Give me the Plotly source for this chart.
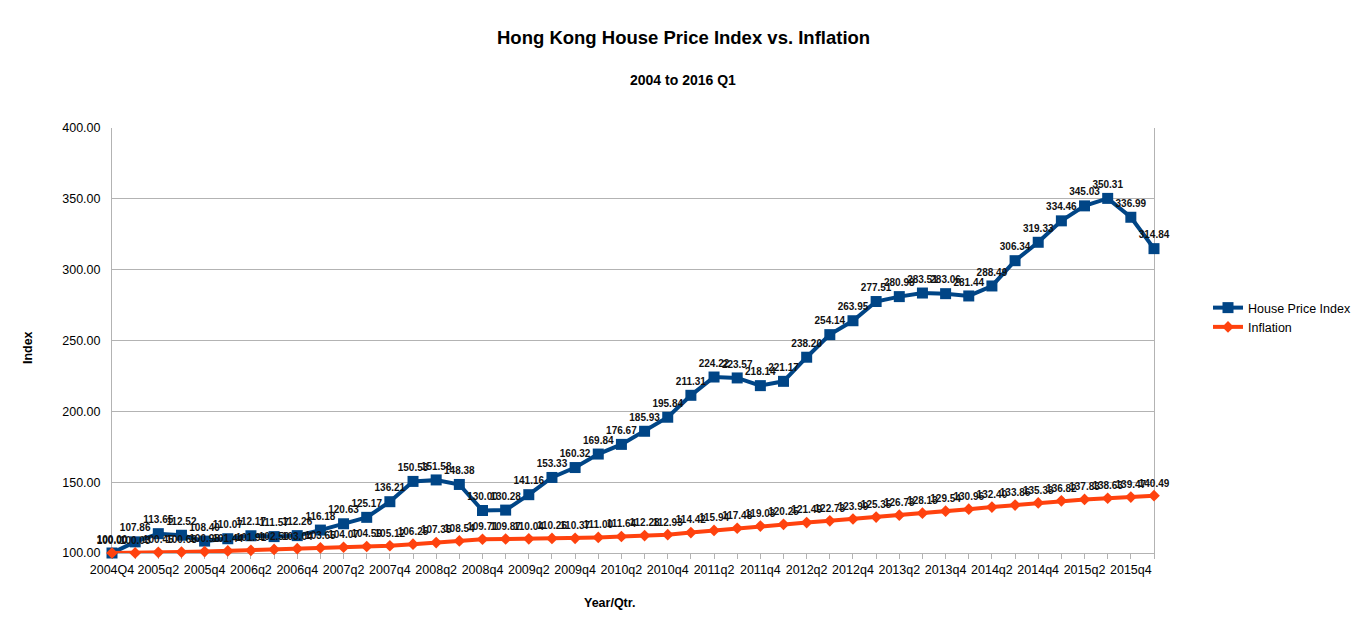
import plotly.graph_objects as go

quarters = ["2004Q4",
            "2005q1", "2005q2", "2005q3", "2005q4",
            "2006q1", "2006q2", "2006q3", "2006q4",
            "2007q1", "2007q2", "2007q3", "2007q4",
            "2008q1", "2008q2", "2008q3", "2008q4",
            "2009q1", "2009q2", "2009q3", "2009q4",
            "2010q1", "2010q2", "2010q3", "2010q4",
            "2011q1", "2011q2", "2011q3", "2011q4",
            "2012q1", "2012q2", "2012q3", "2012q4",
            "2013q1", "2013q2", "2013q3", "2013q4",
            "2014q1", "2014q2", "2014q3", "2014q4",
            "2015q1", "2015q2", "2015q3", "2015q4",
            "2016q1"]

house_price_index = [100.00, 107.86, 113.65, 112.52, 108.40, 110.07, 112.17, 111.57, 112.26,
                     116.18, 120.63, 125.17, 136.21, 150.53, 151.58, 148.38, 130.00, 130.28,
                     141.16, 153.33, 160.32, 169.84, 176.67, 185.93, 195.84, 211.31, 224.22,
                     223.57, 218.14, 221.17, 238.20, 254.14, 263.95, 277.51, 280.98, 283.51,
                     283.06, 281.44, 288.49, 306.34, 319.33, 334.46, 345.03, 350.31, 336.99,
                     314.84]

inflation = [100.00, 100.03, 100.45, 100.68, 100.98, 101.44, 101.91, 102.50, 103.04,
             103.65, 104.07, 104.59, 105.12, 106.25, 107.35, 108.54, 109.71, 109.87,
             110.04, 110.26, 110.37, 111.00, 111.64, 112.28, 112.93, 114.42, 115.94,
             117.48, 119.03, 120.25, 121.49, 122.73, 123.99, 125.35, 126.73, 128.13,
             129.54, 130.96, 132.40, 133.86, 135.33, 136.82, 137.83, 138.63, 139.47,
             140.49]

y_ticks = [100, 150, 200, 250, 300, 350, 400]

FONT = "Liberation Sans, Arial, sans-serif"
BLUE = "#004586"
ORANGE = "#ff420e"

x = list(range(len(quarters)))
tick_text = [q if i % 2 == 0 else "" for i, q in enumerate(quarters)]

fig = go.Figure()
fig.add_trace(go.Scatter(
    x=x, y=house_price_index, name="House Price Index",
    mode="lines+markers+text",
    line=dict(color=BLUE, width=4),
    marker=dict(symbol="square", size=11, color=BLUE),
    text=[f"{v:.2f}" for v in house_price_index],
    textposition="top center",
    textfont=dict(family=FONT, size=10, color="#111111", weight="bold"),
    cliponaxis=False,
))
fig.add_trace(go.Scatter(
    x=x, y=inflation, name="Inflation",
    mode="lines+markers+text",
    line=dict(color=ORANGE, width=4),
    marker=dict(symbol="diamond", size=9, color=ORANGE),
    text=[f"{v:.2f}" for v in inflation],
    textposition="top center",
    textfont=dict(family=FONT, size=10, color="#111111", weight="bold"),
    cliponaxis=False,
))

# plot area in page pixels: x 112..1155, y 128..553 (page has an 8px body margin)
PX0, PX1, PY0, PY1 = 112, 1155, 128, 553
def px(v):
    return (v - PX0) / (PX1 - PX0)
def py(v):
    return (PY1 - v) / (PY1 - PY0)

fig.update_layout(
    width=1359, height=624,
    margin=dict(l=104, r=212, t=120, b=79),
    paper_bgcolor="white", plot_bgcolor="white",
    font=dict(family=FONT, size=12, color="#000000"),
    showlegend=True,
    legend=dict(x=px(1208), y=py(293), xanchor="left", yanchor="top",
                font=dict(family=FONT, size=12.5, color="#000000"),
                itemwidth=30, tracegroupgap=0, bgcolor="rgba(0,0,0,0)"),
    xaxis=dict(
        range=[0, 45], tickmode="array", tickvals=x, ticktext=tick_text,
        showgrid=False, zeroline=False,
        showline=True, linecolor="#b3b3b3", linewidth=1,
        ticks="outside", ticklen=5, tickcolor="#b3b3b3",
        tickfont=dict(family=FONT, size=12.5, color="#000000"),
        tickangle=0, layer="below traces",
    ),
    yaxis=dict(
        range=[100, 400], tickmode="array", tickvals=y_ticks,
        ticktext=[f"{v:.2f}" for v in y_ticks],
        showgrid=True, gridcolor="#b3b3b3", gridwidth=1,
        zeroline=False,
        showline=True, linecolor="#b3b3b3", linewidth=1, mirror=True,
        ticks="", ticklabelstandoff=8,
        tickfont=dict(family=FONT, size=12.5, color="#000000"),
        layer="below traces",
    ),
    annotations=[
        dict(text="<b>Hong Kong House Price Index vs. Inflation</b>",
             xref="paper", yref="paper", x=px(684), y=py(37),
             xanchor="center", yanchor="middle", showarrow=False,
             font=dict(family=FONT, size=18.5, color="#000000")),
        dict(text="<b>2004 to 2016 Q1</b>",
             xref="paper", yref="paper", x=px(684), y=py(80),
             xanchor="center", yanchor="middle", showarrow=False,
             font=dict(family=FONT, size=14, color="#000000")),
        dict(text="<b>Index</b>", textangle=-90,
             xref="paper", yref="paper", x=px(28), y=py(348),
             xanchor="center", yanchor="middle", showarrow=False,
             font=dict(family=FONT, size=12.5, color="#000000")),
        dict(text="<b>Year/Qtr.</b>",
             xref="paper", yref="paper", x=px(610), y=py(603),
             xanchor="center", yanchor="middle", showarrow=False,
             font=dict(family=FONT, size=12.5, color="#000000")),
    ],
)

fig.write_html("out.html")
